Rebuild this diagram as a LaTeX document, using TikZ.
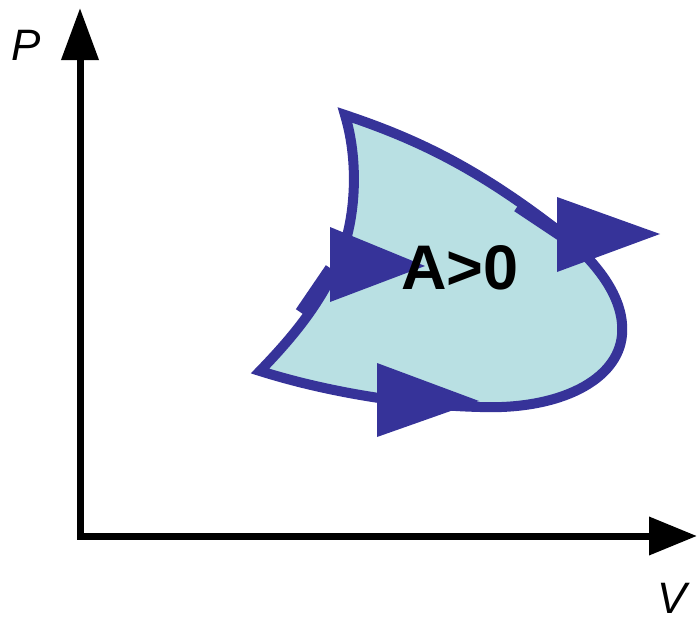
\documentclass[tikz,border=0pt]{standalone}
\usepackage{fontspec}
\setmainfont{Liberation Sans}
\usetikzlibrary{arrows.meta}
\definecolor{loopblue}{HTML}{363399}
\definecolor{loopfill}{HTML}{B9E0E3}
\begin{document}
\begin{tikzpicture}[x=1pt,y=-1pt,
  axis/.style={line width=7pt,black},
  axlabel/.style={font=\fontsize{44}{44}\selectfont\itshape,inner sep=0pt},
  loopline/.style={line width=10pt,draw=loopblue,line join=miter,miter limit=20},
  tri/.style={fill=loopblue,draw=none}]
\useasboundingbox (0,0) rectangle (697,621);
% axes
\coordinate (ytop) at (80,8);
\coordinate (orig) at (80,536);
\coordinate (xend) at (697,536);
\draw[axis,line join=miter,{Triangle[length=52pt,width=36pt]}-{Triangle[length=48pt,width=37pt]}] (ytop) -- (orig) -- (xend);
\node[axlabel] (P) at (26,45) {P};
\node[axlabel] (V) at (672,598) {V};
% loop
\fill[loopfill] (345,115) .. controls (420,140) and (480,170) .. (560,232)
  .. controls (600,265) and (625,300) .. (622,335)
  .. controls (618,380) and (560,410) .. (480,407)
  .. controls (400,405) and (320,390) .. (260,371)
  .. controls (290,340) and (320,305) .. (338,262)
  .. controls (355,225) and (360,165) .. (345,115) -- cycle;
\draw[loopline] (345,115) .. controls (420,140) and (480,170) .. (560,232)
  .. controls (600,265) and (625,300) .. (622,335)
  .. controls (618,380) and (560,410) .. (480,407)
  .. controls (400,405) and (320,390) .. (260,371)
  .. controls (290,340) and (320,305) .. (338,262)
  .. controls (355,225) and (360,165) .. (345,115) -- cycle;
% overlapping stubs
\draw[loopline,line cap=butt] (517,207) -- (562,237);
\draw[loopline,line cap=butt] (300,312) -- (330,268);
% arrowheads
\fill[tri] (557,197) -- (660,234) -- (557,272) -- cycle;
\fill[tri] (330,227) -- (425,266) -- (330,302) -- cycle;
\fill[tri] (377,363) -- (479,401) -- (377,437) -- cycle;
\node[font=\fontsize{63}{63}\selectfont\bfseries] (lbl) at (460,268) {A>0};
\end{tikzpicture}
\end{document}
